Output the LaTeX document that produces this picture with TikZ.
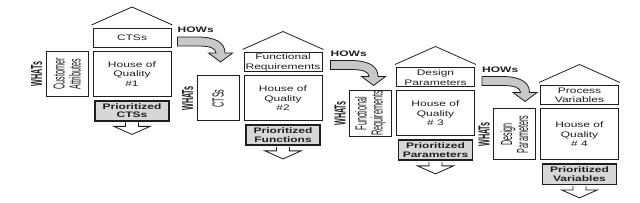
\documentclass[tikz,border=0pt]{standalone}
\usepackage{fontspec}
\newfontfamily\hqfont[FakeStretch=1.5]{Liberation Sans}
\newfontfamily\hqrotfont[FakeStretch=0.45]{Liberation Sans}
\usepackage{xcolor}
\usepackage{tikz}
\usetikzlibrary{positioning, calc}
\definecolor{lineq}{RGB}{30,30,30}
\definecolor{prioq}{RGB}{215,215,215}
\definecolor{arrowq}{RGB}{200,200,200}

\begin{document}
\begin{tikzpicture}[x=1pt, y=-1pt,
        box/.style={draw=lineq, line width=1pt, fill=white, align=center,
                    inner sep=1pt, text=lineq},
        hq/.style={box, minimum width=78pt, minimum height=45pt,
                   font=\hqfont\fontsize{8}{9.5}\selectfont},
        hows/.style={box, minimum width=78pt, minimum height=19pt,
                     font=\hqfont\fontsize{8}{9.5}\selectfont},
        whats/.style={box, rotate=90, anchor=south, minimum width=45pt,
                      minimum height=42pt, font=\hqrotfont\fontsize{16}{16}\selectfont},
        whatslbl/.style={rotate=90, anchor=south, inner sep=0pt, text=lineq,
                         font=\hqrotfont\bfseries\fontsize{16}{16}\selectfont},
        prio/.style={box, fill=prioq, line width=1.6pt, minimum width=74pt,
                     minimum height=20pt, font=\hqfont\bfseries\fontsize{8}{8.5}\selectfont},
        howslbl/.style={anchor=west, inner sep=0pt, text=lineq,
                        font=\hqfont\bfseries\fontsize{8}{8}\selectfont},
        roof/.style={draw=lineq, line width=0.8pt},
        howsarrow/.pic={\draw[draw=lineq, line width=0.8pt, fill=arrowq]
            (0,0) -- (20,0) .. controls (37,0) and (47.5,5) .. (47.5,16)
            -- (55,16) -- (43,25) -- (31,16) -- (38.5,16)
            .. controls (38.5,11) and (32,9) .. (20,9) -- (0,9) -- cycle;},
        prioarrow/.pic={\draw[draw=lineq, line width=0.8pt, fill=white]
            (-6.5,0) -- (-6.5,4) -- (-18,4) -- (0,12) -- (18,4) -- (6.5,4) -- (6.5,0);}]
      \useasboundingbox (0,0) rectangle (640,203);

      \node[hq] (q1) at (132,74) {House of\\Quality\\\#1};
      \node[hows, above=3pt of q1] (h1) {CTSs};
      \node[whats] (w1) at ([xshift=-4pt]q1.west) {Customer\\Attributes};
      \node[whatslbl] (l1) at ([xshift=-3pt]w1.north) {WHATs};
      \node[prio, below=3pt of q1] (p1) {Prioritized\\CTSs};
      \draw[roof] ([shift={(-1pt,3pt)}]h1.north west) -- ([yshift=21pt]h1.north)
                  -- ([shift={(1pt,3pt)}]h1.north east);
      \pic at ([yshift=-0.8pt]p1.south) {prioarrow};

      \node[hq] (q2) at (283,98.5) {House of\\Quality\\\#2};
      \node[hows, above=3pt of q2] (h2) {Functional\\Requirements};
      \node[whats] (w2) at ([xshift=-4pt]q2.west) {CTSs};
      \node[whatslbl] (l2) at ([xshift=-3pt]w2.north) {WHATs};
      \node[prio, below=3pt of q2] (p2) {Prioritized\\Functions};
      \draw[roof] ([shift={(-1pt,3pt)}]h2.north west) -- ([yshift=21pt]h2.north)
                  -- ([shift={(1pt,3pt)}]h2.north east);
      \pic at ([yshift=-0.8pt]p2.south) {prioarrow};

      \node[hq] (q3) at (435.5,113.5) {House of\\Quality\\\# 3};
      \node[hows, above=3pt of q3] (h3) {Design\\Parameters};
      \node[whats] (w3) at ([xshift=-4pt]q3.west) {Functional\\Requirements};
      \node[whatslbl] (l3) at ([xshift=-3pt]w3.north) {WHATs};
      \node[prio, below=3pt of q3] (p3) {Prioritized\\Parameters};
      \draw[roof] ([shift={(-1pt,3pt)}]h3.north west) -- ([yshift=21pt]h3.north)
                  -- ([shift={(1pt,3pt)}]h3.north east);
      \pic at ([yshift=-0.8pt]p3.south) {prioarrow};

      \node[hq, minimum height=51pt] (q4) at (579.5,134.5) {House of\\Quality\\\# 4};
      \node[hows, above=3pt of q4] (h4) {Process\\Variables};
      \node[whats, minimum width=51pt] (w4) at ([xshift=-4pt]q4.west) {Design\\Parameters};
      \node[whatslbl] (l4) at ([xshift=-3pt]w4.north) {WHATs};
      \node[prio, below=3pt of q4] (p4) {Prioritized\\Variables};
      \draw[roof] ([shift={(-1pt,3pt)}]h4.north west) -- ([yshift=21pt]h4.north)
                  -- ([shift={(1pt,3pt)}]h4.north east);
      \pic at ([yshift=-0.8pt]p4.south) {prioarrow};

      \node[howslbl] (o1) at ([shift={(6pt,-2pt)}]h1.north east) {HOWs};
      \node[howslbl] (o2) at ([shift={(8pt,-1pt)}]h2.north east) {HOWs};
      \node[howslbl] (o3) at ([shift={(7pt,-2pt)}]h3.north east) {HOWs};
      \pic at ([yshift=-7pt]o1.west) {howsarrow};
      \pic at ([yshift=-7pt]o2.west) {howsarrow};
      \pic at ([yshift=-7pt]o3.west) {howsarrow};
    \end{tikzpicture}
\end{document}
